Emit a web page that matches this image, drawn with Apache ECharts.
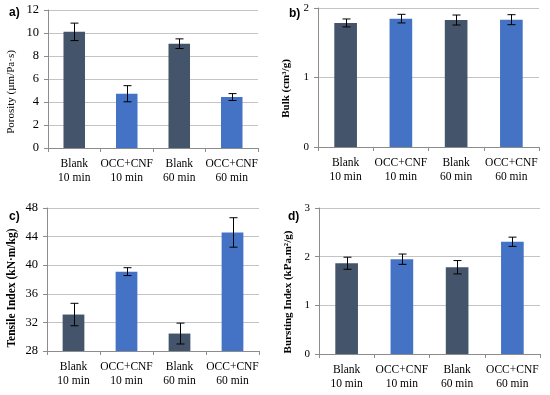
<!DOCTYPE html>
<html><head><meta charset="utf-8">
<script src="https://cdn.jsdelivr.net/npm/echarts@6/dist/echarts.min.js"></script>
<style>html,body{margin:0;padding:0;background:#fff}#c{width:550px;height:395px}</style>
</head><body><div id="c"></div>
<script>
var categories = ['Blank\n10 min', 'OCC+CNF\n10 min', 'Blank\n60 min', 'OCC+CNF\n60 min'];
var porosity = [10.1, 4.72, 9.07, 4.43];
var porosityErr = [0.76, 0.7, 0.42, 0.3];
var bulk = [1.785, 1.847, 1.827, 1.832];
var bulkErr = [0.057, 0.062, 0.072, 0.072];
var tensile = [33.1, 39.1, 30.44, 44.58];
var tensileErr = [1.57, 0.55, 1.46, 2.06];
var bursting = [1.865, 1.948, 1.783, 2.306];
var burstingErr = [0.124, 0.106, 0.137, 0.095];
var barColors = ['#44546A', '#4472C4', '#44546A', '#4472C4'];

var serif = '"Liberation Serif", "DejaVu Serif", serif';
var chart = echarts.init(document.getElementById('c'));

var panels = [
  {vals: porosity, err: porosityErr, min: 0, max: 12, interval: 2, name: 'Porosity (\u00b5m/Pa\u00b7s)', bold: false, nameSize: 11, labelSize: 12.5,
   grid: {left: 48, top: 10, width: 210, height: 138}, nameGap: 31, shift: 26},
  {vals: bulk, err: bulkErr, min: 0, max: 2, interval: 1, name: 'Bulk (cm\u00b3/g)', bold: true, nameSize: 11, labelSize: 11,
   grid: {left: 318, top: 8, width: 221, height: 139}, nameGap: 26, shift: 22},
  {vals: tensile, err: tensileErr, min: 28, max: 48, interval: 4, name: 'Tensile Index (kN\u00b7m/kg)', bold: true, nameSize: 11.5, labelSize: 12.5,
   grid: {left: 47, top: 208, width: 212, height: 143}, nameGap: 29, shift: 17},
  {vals: bursting, err: burstingErr, min: 0, max: 3, interval: 1, name: 'Bursting Index (kPa.m\u00b2/g)', bold: true, nameSize: 11, labelSize: 11,
   grid: {left: 319, top: 208, width: 221, height: 146}, nameGap: 25, shift: 22}
];

var grids = [], xAxes = [], yAxes = [], series = [];
panels.forEach(function (p, i) {
  grids.push(p.grid);
  xAxes.push({
    type: 'category', gridIndex: i, data: categories,
    axisLine: {lineStyle: {color: '#8c8c8c', width: 1}},
    axisTick: {show: true, length: 4, lineStyle: {color: '#8c8c8c'}},
    axisLabel: {color: '#000', fontFamily: serif, fontSize: 11.5, lineHeight: 14, margin: 9, interval: 0}
  });
  yAxes.push({
    type: 'value', gridIndex: i, min: p.min, max: p.max, interval: p.interval,
    name: p.name, nameLocation: 'middle', nameGap: p.nameGap,
    nameTextStyle: {color: '#000', fontFamily: serif, fontSize: p.nameSize, fontWeight: p.bold ? 'bold' : 'normal',
      padding: [0, p.shift, 0, 0]},
    axisLine: {show: true, lineStyle: {color: '#8c8c8c'}},
    axisTick: {show: true, length: 4, lineStyle: {color: '#8c8c8c'}},
    splitLine: {show: true, lineStyle: {color: '#c4c4c4', width: 1}},
    axisLabel: {color: '#000', fontFamily: serif, fontSize: p.labelSize, margin: 9}
  });
  series.push({
    type: 'bar', xAxisIndex: i, yAxisIndex: i, barWidth: '41%',
    data: p.vals.map(function (v, k) { return {value: v, itemStyle: {color: barColors[k]}}; }),
    silent: true, animation: false
  });
  series.push({
    type: 'custom', xAxisIndex: i, yAxisIndex: i, animation: false, silent: true, z: 10,
    data: p.vals.map(function (v, k) { return [k, v - p.err[k], v + p.err[k]]; }),
    renderItem: function (params, api) {
      var lo = api.coord([api.value(0), api.value(1)]);
      var hi = api.coord([api.value(0), api.value(2)]);
      var x = Math.round(lo[0]) + 0.5, w = 4;
      var st = {stroke: '#000', lineWidth: 1};
      return {type: 'group', children: [
        {type: 'line', shape: {x1: x, y1: hi[1], x2: x, y2: lo[1]}, style: st},
        {type: 'line', shape: {x1: x - w, y1: hi[1], x2: x + w, y2: hi[1]}, style: st},
        {type: 'line', shape: {x1: x - w, y1: lo[1], x2: x + w, y2: lo[1]}, style: st}
      ]};
    }
  });
});

var lbl = {fill: '#000', font: 'bold 12px "Liberation Sans", Arial, sans-serif'};
chart.setOption({
  animation: false,
  grid: grids, xAxis: xAxes, yAxis: yAxes, series: series,
  graphic: [
    {type: 'text', left: 9, top: 7, style: Object.assign({text: 'a)'}, lbl)},
    {type: 'text', left: 289, top: 8, style: Object.assign({text: 'b)'}, lbl)},
    {type: 'text', left: 9, top: 211, style: Object.assign({text: 'c)'}, lbl)},
    {type: 'text', left: 288, top: 211, style: Object.assign({text: 'd)'}, lbl)}
  ]
});
</script></body></html>
